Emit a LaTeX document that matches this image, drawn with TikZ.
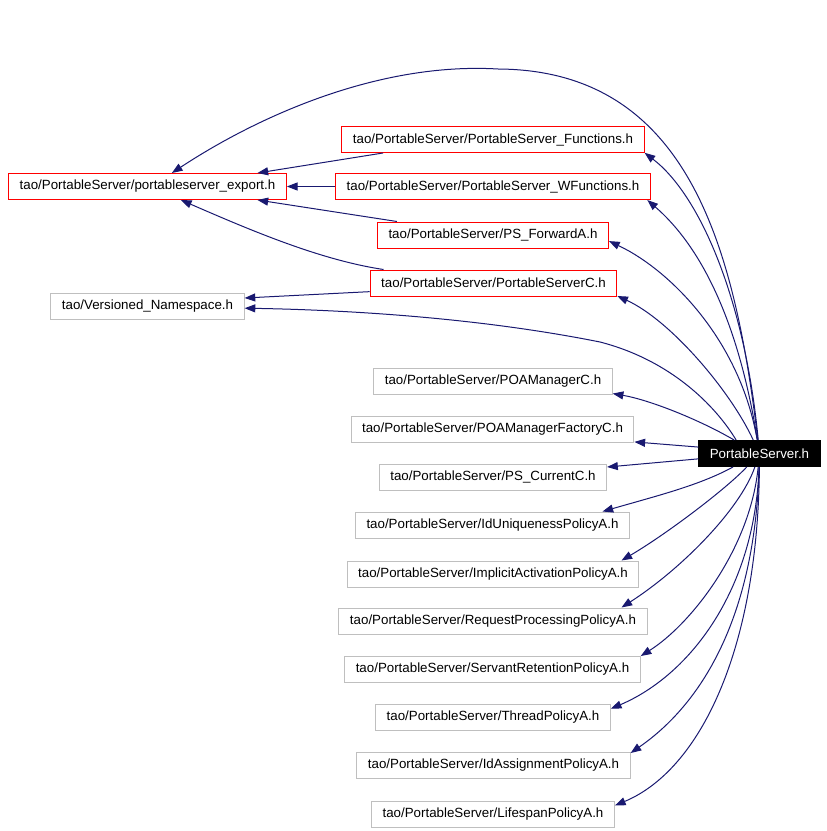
\documentclass[tikz,border=0pt]{standalone}
\usepackage{fontspec}
\setmainfont{Liberation Sans}
\usetikzlibrary{arrows.meta}
\definecolor{edgeblue}{RGB}{25,25,112}
\definecolor{boxgray}{RGB}{191,191,191}

\begin{document}
\begin{tikzpicture}[x=0.75pt,y=-0.75pt,
  filebox/.style={rectangle, draw, line width=0.75pt, minimum height=19.5pt, inner xsep=8.25pt, font=\fontsize{10}{12}\selectfont},
  redfile/.style={filebox, draw=red},
  grayfile/.style={filebox, draw=boxgray},
  mainfile/.style={filebox, draw=black, fill=black, text=white},
  incl/.style={draw=edgeblue, line width=0.75pt, -{Triangle[length=8pt,width=6pt]}}]
\useasboundingbox (0,0) rectangle (827,831);

% the header itself
\node[mainfile] (ps) at (759.5,453.5) {PortableServer.h};

% red boxes
\node[redfile] (ex) at (147.5,186.5) {tao/PortableServer/portableserver\_export.h};
\node[redfile] (fn) at (493,139.5) {tao/PortableServer/PortableServer\_Functions.h};
\node[redfile] (wf) at (493,186.5) {tao/PortableServer/PortableServer\_WFunctions.h};
\node[redfile] (fw) at (493,235) {tao/PortableServer/PS\_ForwardA.h};
\node[redfile] (psc) at (493.5,283) {tao/PortableServer/PortableServerC.h};

% gray boxes
\node[grayfile] (vn) at (147.5,306.5) {tao/Versioned\_Namespace.h};
\node[grayfile] (poa) at (493,381) {tao/PortableServer/POAManagerC.h};
\node[grayfile] (poaf) at (492.5,429.5) {tao/PortableServer/POAManagerFactoryC.h};
\node[grayfile] (cur) at (493,477) {tao/PortableServer/PS\_CurrentC.h};
\node[grayfile] (idu) at (492.5,525) {tao/PortableServer/IdUniquenessPolicyA.h};
\node[grayfile] (ia) at (493,574) {tao/PortableServer/ImplicitActivationPolicyA.h};
\node[grayfile] (rp) at (493,621) {tao/PortableServer/RequestProcessingPolicyA.h};
\node[grayfile] (sr) at (492.5,669) {tao/PortableServer/ServantRetentionPolicyA.h};
\node[grayfile] (tp) at (493,717) {tao/PortableServer/ThreadPolicyA.h};
\node[grayfile] (ida) at (493.5,765) {tao/PortableServer/IdAssignmentPolicyA.h};
\node[grayfile] (ls) at (493,814) {tao/PortableServer/LifespanPolicyA.h};

% edges into the export header
\draw[incl] (fn.187) -- (ex.7);
\draw[incl] (wf.west) -- (ex.east);
\draw[incl] (fw.172) -- (ex.-7);
\draw[incl] (psc.173) .. controls (320,260) and (250,230) .. (ex.-22);
\draw[incl] (psc.184) -- (vn.5);

% edges from PortableServer.h, upper side
\draw[incl] (ps) .. controls (735,250) and (690,70) .. (498,69) .. controls (380,62) and (260,115) .. (ex.29);
\draw[incl] (ps) .. controls (745,300) and (700,195) .. (fn.-5);
\draw[incl] (ps) .. controls (740,330) and (705,250) .. (wf.-5);
\draw[incl] (ps) .. controls (740,340) and (670,270) .. (fw.-3);
\draw[incl] (ps) .. controls (730,390) and (670,320) .. (psc.-6);
\draw[incl] (ps.150) .. controls (715,405) and (670,360) .. (600,342) .. controls (480,318) and (350,310) .. (vn.-1);
\draw[incl] (ps.152) .. controls (700,420) and (650,400) .. (poa.-6);
\draw[incl] (ps.174) -- (poaf.-5);
\draw[incl] (ps.185) -- (cur.5);

% edges from PortableServer.h, lower side
\draw[incl] (ps.207) .. controls (700,485) and (660,495) .. (idu.7);
\draw[incl] (ps) .. controls (725,490) and (665,535) .. (ia.6);
\draw[incl] (ps) .. controls (740,510) and (680,570) .. (rp.6);
\draw[incl] (ps) .. controls (750,550) and (690,625) .. (sr.5);
\draw[incl] (ps) .. controls (755,590) and (690,675) .. (tp.4);
\draw[incl] (ps) .. controls (755,620) and (700,705) .. (ida.5);
\draw[incl] (ps) .. controls (758,650) and (700,770) .. (ls.4);
\end{tikzpicture}
\end{document}
